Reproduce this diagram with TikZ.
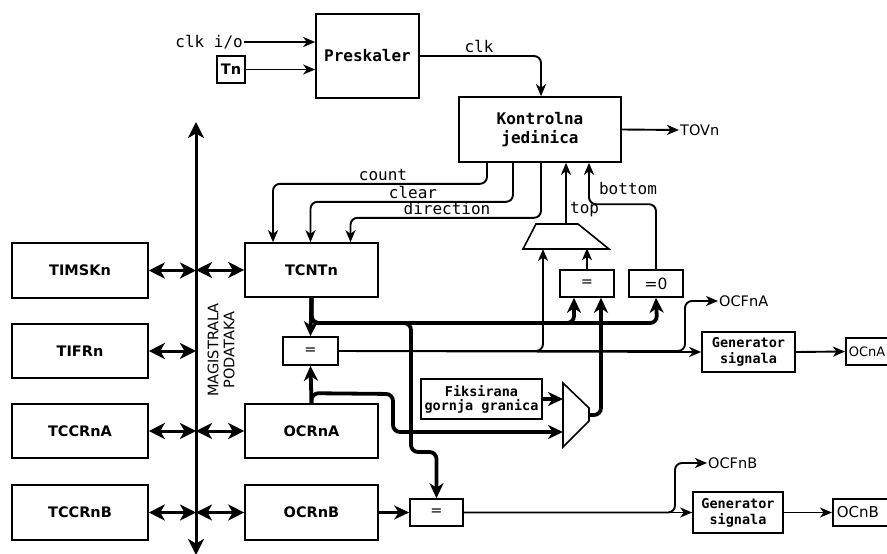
\documentclass[tikz,border=0pt]{standalone}
\usepackage{fontspec}
\setmainfont{DejaVu Sans}
\newfontfamily\monofont{DejaVu Sans Mono}
\usetikzlibrary{arrows.meta}
\begin{document}
\begin{tikzpicture}[x=1pt,y=-1pt,
  box/.style={draw, line width=1.6pt, inner sep=2pt, align=center},
  lbl/.style={font=\fontsize{14.5}{16}\selectfont\bfseries},
  sans/.style={font=\fontsize{14.5}{16}\selectfont},
  mono/.style={font=\monofont\fontsize{16}{18}\selectfont},
  monob/.style={font=\monofont\bfseries\fontsize{16}{18}\selectfont},
  thin/.style={line width=1.9pt, -{Stealth[length=12pt,width=10pt,inset=3.5pt]}},
  thk/.style={line width=3.8pt, -{Stealth[length=15pt,width=14pt,inset=4.5pt]}},
  busarr/.style={line width=3pt, {Stealth[length=16pt,width=16pt,inset=4.5pt]}-{Stealth[length=16pt,width=16pt,inset=4.5pt]}},
  rc/.style={rounded corners=7pt}]
\useasboundingbox (0,0) rectangle (887,554);
\clip (0,0) rectangle (887,554);

% --- top part
\node[box, monob, minimum width=103pt, minimum height=84pt] (pre) at (367.5,56) {Preskaler};
\node[mono, anchor=east, inner sep=1pt] (clkio) at (244,42) {clk i/o};
\node[box, lbl, minimum width=28pt, minimum height=27pt, inner sep=1pt] (tn) at (231,69.5) {Tn};
\draw[thin] (clkio.east) -- (pre.west |- clkio.east);
\draw[thin] (tn.east) -- (pre.west |- tn.east);
\node[box, monob, minimum width=162pt, minimum height=65pt, font=\monofont\bfseries\fontsize{16}{19}\selectfont] (kon) at (540,129.5) {Kontrolna\\jedinica};
\draw[thin, rc] (pre.east) -| ([xshift=1pt]kon.north);
\node[mono] (clklbl) at (479,46) {clk};
\node[sans, anchor=west, inner sep=1pt] (tovn) at (679,130) {TOVn};
\draw[thin] (kon.east) -- (tovn.west);

% --- left column
\node[box, lbl, minimum width=136pt, minimum height=55pt] (timsk) at (80,270.5) {TIMSKn};
\node[box, lbl, minimum width=136pt, minimum height=54pt] (tifr) at (80,351) {TIFRn};
\node[box, lbl, minimum width=136pt, minimum height=54pt] (tccra) at (80,431) {TCCRnA};
\node[box, lbl, minimum width=136pt, minimum height=55pt] (tccrb) at (80,512.5) {TCCRnB};

% --- bus
\coordinate (bt) at (196,122);
\coordinate (bb) at (196,555);
\draw[busarr] (bt) -- (bb);
\node[sans, rotate=90, align=center, font=\fontsize{14.5}{16}\selectfont] (mag) at (221,350) {MAGISTRALA\\PODATAKA};

% --- register column
\node[box, lbl, minimum width=133pt, minimum height=54pt] (tcnt) at (311.5,270) {TCNTn};
\node[box, lbl, minimum width=133pt, minimum height=54pt] (ocra) at (311.5,431) {OCRnA};
\node[box, lbl, minimum width=133pt, minimum height=55pt] (ocrb) at (311.5,512.5) {OCRnB};

\draw[busarr] (timsk.east) -- (timsk.east -| bt);
\draw[busarr] (tifr.east) -- (tifr.east -| bt);
\draw[busarr] (tccra.east) -- (tccra.east -| bt);
\draw[busarr] (tccrb.east) -- (tccrb.east -| bt);
\draw[busarr] (bt |- tcnt.west) -- (tcnt.west);
\draw[busarr] (bt |- ocra.west) -- (ocra.west);
\draw[busarr] (bt |- ocrb.west) -- (ocrb.west);

% --- control lines
\draw[thin, rc] ([xshift=-53pt]kon.south) -- ++(0,21) -| ([xshift=-38.5pt]tcnt.north);
\draw[thin, rc] ([xshift=-27pt]kon.south) -- ++(0,39) -| ([xshift=-1pt]tcnt.north);
\draw[thin, rc] ([xshift=1pt]kon.south) -- ++(0,55) -| ([xshift=39pt]tcnt.north);
\node[mono] (lcount) at (383,175) {count};
\node[mono] (lclear) at (413,192) {clear};
\node[mono] (ldir) at (447,209) {direction};

% --- comparators
\node[box, sans, minimum width=55pt, minimum height=28pt] (eqa) at (310.5,351) {=};
\node[box, sans, minimum width=54pt, minimum height=27pt] (eqt) at (587,283.5) {=};
\node[box, sans, minimum width=54pt, minimum height=27pt, font=\fontsize{15.5}{17}\selectfont] (eqz) at (656,283.5) {=0};
\node[box, sans, minimum width=53pt, minimum height=27pt] (eqb) at (436.5,512.5) {=};

% --- top selector (trapezoid)
\coordinate (tpa) at (536,224);
\coordinate (tpb) at (578,224);
\coordinate (tpc) at (609,249);
\coordinate (tpd) at (523,249);
\coordinate (tt) at (566,224);
\draw[line width=1.6pt] (tpa) -- (tpb) -- (tpc) -- (tpd) -- cycle;
\draw[thin] (tt) -- (tt |- kon.south);
\node[mono, anchor=west, inner sep=1pt] (ltop) at (569,210) {top};
\draw[thin, rc] (eqz.north) -- ++(0,-65) -| ([xshift=49pt]kon.south);
\node[mono] (lbot) at (628,189) {bottom};
\draw[thin] (eqt.north) -- ++(0,-21);

% --- fixed top and mux
\node[box, minimum width=121pt, minimum height=40pt, inner sep=1pt, font=\monofont\bfseries\fontsize{13.5}{14}\selectfont] (fix) at (481.5,399) {Fiksirana\\gornja granica};
\coordinate (ma) at (563,383);
\coordinate (mb) at (589,408);
\coordinate (mc) at (589,421);
\coordinate (md) at (563,447);
\coordinate (mo) at (589,415);
\draw[line width=1.6pt] (ma) -- (mb) -- (mc) -- (md) -- cycle;
\draw[thk] (fix.east) -- (fix.east -| ma);
\draw[thk, rc] (ocra.north) -- ++(0,-10) -- (393,394) -- (393,432) -- (563,432);
\draw[thk, rc] (mo) -- (601,415) -- ([xshift=14pt]eqt.south);

% --- thick counter bus
\draw[thk] (tcnt.south) -- (eqa.north);
\draw[thk, rc] (tcnt.south) -- (311.5,323) -- (657,323) -- (eqz.south);
\draw[thk, rc] (tcnt.south) -- (311.5,323) -- (574,323) -- ([xshift=-13pt]eqt.south);
\draw[thk, rc] (tcnt.south) -- (311.5,323) -- (411,323) -- (411,452) -- (436.5,452) -- (eqb.north);
\draw[thk] (ocra.north) -- (eqa.south);

% --- output A
\node[box, minimum width=93pt, minimum height=40pt, inner sep=1pt, font=\monofont\bfseries\fontsize{13.5}{16}\selectfont] (gena) at (748.5,352) {Generator\\signala};
\node[box, anchor=west, minimum height=27pt, text width=36pt, align=left, inner xsep=3pt, font=\fontsize{13}{15}\selectfont] (ocna) at (845,351.5) {OCnA};
\node[sans, anchor=west, inner sep=1pt] (ocfna) at (718,301) {OCFnA};
\draw[thin] (eqa.east) -- (gena.west);
\draw[thin, rc] (eqa.east) -- (543,351) -- (543,249);
\draw[thin, rc] (eqa.east) -- (685,351) -- (685,301) -- (ocfna.west);
\draw[thin] (gena.east) -- (ocna.west);

% --- output B
\node[box, minimum width=90pt, minimum height=41pt, inner sep=1pt, font=\monofont\bfseries\fontsize{13.5}{16}\selectfont] (genb) at (738,512.5) {Generator\\signala};
\node[box, anchor=west, minimum height=27pt, text width=52pt, align=left, inner xsep=4pt, font=\fontsize{15}{17}\selectfont] (ocnb) at (832,512.5) {OCnB};
\node[sans, anchor=west, inner sep=1pt] (ocfnb) at (707,463) {OCFnB};
\draw[thk] (ocrb.east) -- (eqb.west);
\draw[thin] (eqb.east) -- (genb.west);
\draw[thin, rc] (eqb.east) -- (675,512.5) -- (675,463) -- (ocfnb.west);
\draw[thin] (genb.east) -- (ocnb.west);
\end{tikzpicture}
\end{document}
